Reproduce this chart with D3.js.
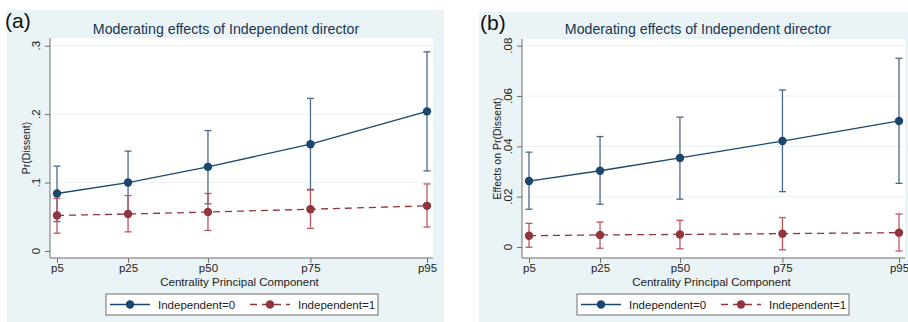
<!DOCTYPE html>
<html>
<head>
<meta charset="utf-8">
<script src="https://cdn.jsdelivr.net/npm/d3@7"></script>
<style>
  body { margin: 0; background: #ffffff; }
  svg { display: block; font-family: "Liberation Sans", Arial, sans-serif; }
</style>
</head>
<body>
<script>
// percentile categories and their position on the centrality scale
var categories = ["p5", "p25", "p50", "p75", "p95"];
var centrality = [0, 0.192, 0.408, 0.685, 1];
var seriesNames = ["Independent=0", "Independent=1"];

// panel (a): Pr(Dissent)
var aIndep0 = [0.084, 0.100, 0.123, 0.156, 0.204];
var aIndep0Lo = [0.043, 0.054, 0.069, 0.090, 0.117];
var aIndep0Hi = [0.124, 0.146, 0.176, 0.223, 0.291];
var aIndep1 = [0.052, 0.054, 0.057, 0.061, 0.066];
var aIndep1Lo = [0.026, 0.028, 0.030, 0.033, 0.035];
var aIndep1Hi = [0.077, 0.081, 0.084, 0.089, 0.098];
var aTicks = [0, 0.1, 0.2, 0.3];

// panel (b): effects on Pr(Dissent)
var bIndep0 = [0.0262, 0.0303, 0.0354, 0.0421, 0.0501];
var bIndep0Lo = [0.0150, 0.0170, 0.0190, 0.0220, 0.0253];
var bIndep0Hi = [0.0377, 0.0439, 0.0516, 0.0624, 0.0750];
var bIndep1 = [0.0045, 0.0048, 0.0050, 0.0053, 0.0057];
var bIndep1Lo = [-0.0001, -0.0005, -0.0007, -0.0011, -0.0016];
var bIndep1Hi = [0.0094, 0.0099, 0.0106, 0.0117, 0.0131];
var bTicks = [0, 0.02, 0.04, 0.06, 0.08];

var title = "Moderating effects of Independent director";
var xTitle = "Centrality Principal Component";

var blue = "#1a476f", blueCI = "#4a6a8e";
var red = "#90353b", redCI = "#c0555e";

var svg = d3.select("body").append("svg")
    .attr("width", 908)
    .attr("height", 322);

function stataFmt(d) {
    if (d === 0) return "0";
    return String(+d.toFixed(2)).replace(/^0\./, ".");
}

function drawPanel(p) {
    let g = svg.append("g");

    // outer graph region
    g.append("rect")
        .attr("x", p.bx).attr("y", p.by)
        .attr("width", p.bw).attr("height", 322 - p.by)
        .attr("fill", "#eaf3f5");

    // panel letter
    g.append("text")
        .attr("x", p.letterX).attr("y", p.letterY)
        .attr("font-size", "21px")
        .attr("fill", "#111")
        .text(p.letter);

    // plot region
    g.append("rect")
        .attr("x", p.left).attr("y", p.top)
        .attr("width", p.right - p.left).attr("height", p.bottom - p.top)
        .attr("fill", "#ffffff");

    let x = d3.scaleLinear().domain([0, 1]).range([p.left + 7, p.right - 6]);
    let y = d3.scaleLinear().domain(p.yDomain).range(p.yRange);

    // grid lines
    g.selectAll(".grid")
        .data(p.ticks.slice(1))
        .enter()
        .append("line")
        .attr("x1", p.left).attr("x2", p.right)
        .attr("y1", (d) => y(d)).attr("y2", (d) => y(d))
        .attr("stroke", "#eaf2f3")
        .attr("stroke-width", 1);

    // title
    g.append("text")
        .attr("x", p.titleX).attr("y", 34)
        .attr("text-anchor", "middle")
        .attr("font-size", "14.2px")
        .attr("fill", "#1b3655")
        .text(title);

    // y axis
    let yAxis = d3.axisLeft(y).tickValues(p.ticks).tickFormat("").tickSize(5).tickSizeOuter(0);
    let ya = g.append("g")
        .attr("transform", "translate(" + p.left + ",0)")
        .call(yAxis);
    ya.select(".domain").attr("stroke", "#6e6e6e").attr("d", "M0," + p.top + "V" + p.bottom);
    ya.selectAll(".tick line").attr("stroke", "#6e6e6e");

    g.selectAll(".ytl")
        .data(p.ticks)
        .enter()
        .append("text")
        .attr("transform", (d) => "translate(" + (p.left - 10) + "," + y(d) + ") rotate(-90)")
        .attr("text-anchor", "middle")
        .attr("font-size", "11.5px")
        .attr("fill", "#222")
        .text(stataFmt);

    g.append("text")
        .attr("transform", "translate(" + p.yTitleX + "," + ((p.top + p.bottom) / 2) + ") rotate(-90)")
        .attr("text-anchor", "middle")
        .attr("font-size", "10.5px")
        .attr("fill", "#222")
        .text(p.yTitle);

    // x axis
    let xAxis = d3.axisBottom(x).tickValues(centrality)
        .tickFormat((d, i) => categories[i]).tickSize(5).tickSizeOuter(0);
    let xa = g.append("g")
        .attr("transform", "translate(0," + p.bottom + ")")
        .call(xAxis);
    xa.select(".domain").attr("stroke", "#6e6e6e").attr("d", "M" + p.left + ",0H" + p.right);
    xa.selectAll(".tick line").attr("stroke", "#6e6e6e");
    xa.selectAll(".tick text")
        .attr("font-size", "11.5px")
        .attr("font-family", "Liberation Sans, Arial, sans-serif")
        .attr("fill", "#222")
        .attr("dy", "0.55em");

    g.append("text")
        .attr("x", (p.left + p.right) / 2 - 2).attr("y", 286)
        .attr("text-anchor", "middle")
        .attr("font-size", "11.5px")
        .attr("fill", "#222")
        .text(xTitle);

    // series
    p.series.forEach((s) => {
        let pts = s.values.map((v, i) => ({ x: centrality[i], v: v, lo: s.lo[i], hi: s.hi[i] }));

        // confidence interval caps
        let ci = g.append("g").attr("stroke", s.ciColor).attr("stroke-width", 1.3);
        ci.selectAll(".bar").data(pts).enter().append("line")
            .attr("x1", (d) => x(d.x)).attr("x2", (d) => x(d.x))
            .attr("y1", (d) => y(d.lo)).attr("y2", (d) => y(d.hi));
        ci.selectAll(".capHi").data(pts).enter().append("line")
            .attr("x1", (d) => x(d.x) - 3.5).attr("x2", (d) => x(d.x) + 3.5)
            .attr("y1", (d) => y(d.hi)).attr("y2", (d) => y(d.hi));
        ci.selectAll(".capLo").data(pts).enter().append("line")
            .attr("x1", (d) => x(d.x) - 3.5).attr("x2", (d) => x(d.x) + 3.5)
            .attr("y1", (d) => y(d.lo)).attr("y2", (d) => y(d.lo));

        let line = d3.line().x((d) => x(d.x)).y((d) => y(d.v));
        g.append("path")
            .datum(pts)
            .attr("d", line)
            .attr("fill", "none")
            .attr("stroke", s.color)
            .attr("stroke-width", 1.3)
            .attr("stroke-dasharray", s.dash);

        g.selectAll(".pt" + s.key).data(pts).enter().append("circle")
            .attr("cx", (d) => x(d.x)).attr("cy", (d) => y(d.v))
            .attr("r", 4.2)
            .attr("fill", s.color);
    });

    // legend
    let lg = g.append("g");
    lg.append("rect")
        .attr("x", p.legX).attr("y", 294)
        .attr("width", 272).attr("height", 21)
        .attr("fill", "#ffffff")
        .attr("stroke", "#6e6e6e");
    p.series.forEach((s, i) => {
        let ox = p.legX + 4 + i * 140;
        lg.append("line")
            .attr("x1", ox).attr("x2", ox + 40)
            .attr("y1", 304.5).attr("y2", 304.5)
            .attr("stroke", s.color).attr("stroke-width", 1.3)
            .attr("stroke-dasharray", s.dash);
        lg.append("circle")
            .attr("cx", ox + 20).attr("cy", 304.5).attr("r", 4.2)
            .attr("fill", s.color);
        lg.append("text")
            .attr("x", ox + 48).attr("y", 308.5)
            .attr("font-size", "11.5px")
            .attr("fill", "#222")
            .text(seriesNames[i]);
    });
}

drawPanel({
    letter: "(a)", letterX: 5, letterY: 28,
    bx: 7, by: 10, bw: 437,
    left: 50, right: 433, top: 38, bottom: 258,
    titleX: 226,
    yDomain: [0, 0.3], yRange: [251, 45.7], ticks: aTicks,
    yTitle: "Pr(Dissent)", yTitleX: 30,
    legX: 106,
    series: [
        { key: "a0", values: aIndep0, lo: aIndep0Lo, hi: aIndep0Hi, color: blue, ciColor: blueCI, dash: null },
        { key: "a1", values: aIndep1, lo: aIndep1Lo, hi: aIndep1Hi, color: red, ciColor: redCI, dash: "7,5" }
    ]
});

drawPanel({
    letter: "(b)", letterX: 480, letterY: 30,
    bx: 479, by: 12, bw: 429,
    left: 522, right: 905, top: 39, bottom: 258,
    titleX: 698,
    yDomain: [0, 0.08], yRange: [247, 45.7], ticks: bTicks,
    yTitle: "Effects on Pr(Dissent)", yTitleX: 501,
    legX: 577,
    series: [
        { key: "b0", values: bIndep0, lo: bIndep0Lo, hi: bIndep0Hi, color: blue, ciColor: blueCI, dash: null },
        { key: "b1", values: bIndep1, lo: bIndep1Lo, hi: bIndep1Hi, color: red, ciColor: redCI, dash: "7,5" }
    ]
});
</script>
</body>
</html>
